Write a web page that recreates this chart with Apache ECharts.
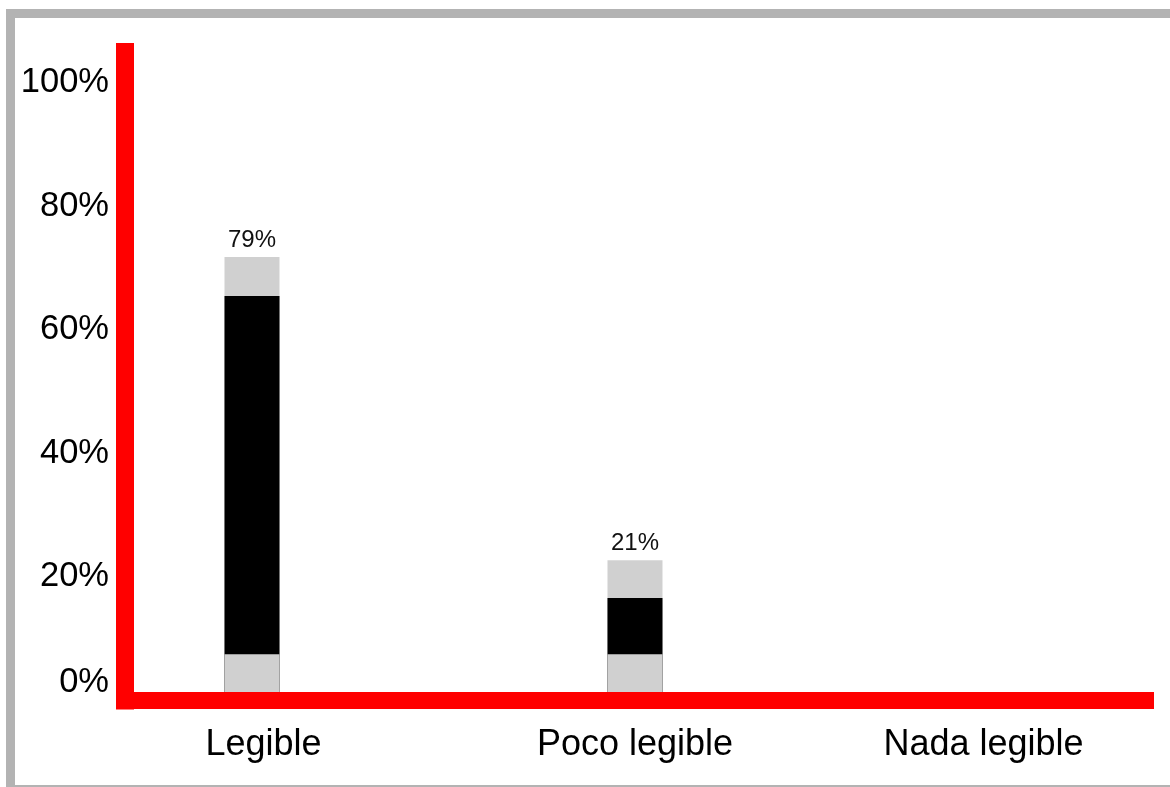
<!DOCTYPE html>
<html>
<head>
<meta charset="utf-8">
<script src="https://cdn.jsdelivr.net/npm/echarts@6/dist/echarts.min.js"></script>
<style>
    html, body { margin: 0; padding: 0; background: #fff; overflow: hidden; }
    #frame {
        position: absolute; left: 6px; top: 9px; width: 1200px; height: 785px;
        box-sizing: border-box; border: 9px solid #b3b3b3;
    }
    #chart { position: absolute; left: 0; top: 0; width: 1170px; height: 787px; }
</style>
</head>
<body>
<div id="frame"></div>
<div id="chart"></div>
<script>
// categories and the three stacked pieces of each bar (in %)
var categories = ['Legible', 'Poco legible', 'Nada legible'];
var lowerGrey = [7.5, 7.5, 0];
var blackPart = [58.0, 9.1, 0];
var upperGrey = [6.3, 6.1, 0];
var valueLabels = ['79%', '21%', ''];
var yTicks = [0, 20, 40, 60, 80, 100];

// where the category names sit on the x scale
var labelSlots = [0.03, 1, 1.91];

(function () {
    var myChart = echarts.init(document.getElementById('chart'));

    function cumulate(parts) {
        return categories.map(function (c, i) {
            var s = 0;
            parts.forEach(function (p) { s += p[i]; });
            return [i, s];
        });
    }

    var font = 'Liberation Sans, Arial, sans-serif';
    var option = {
        animation: false,
        grid: { left: 125, right: 24.5, top: 52, bottom: 86.5 },
        xAxis: {
            type: 'value',
            min: -0.3316,
            max: 2.333,
            z: 5,
            splitLine: { show: false },
            axisTick: { show: false },
            axisLine: { onZero: false, lineStyle: { color: '#ff0000', width: 17, cap: 'square' } },
            axisLabel: {
                customValues: labelSlots,
                margin: 27,
                fontSize: 36,
                fontFamily: font,
                color: '#000',
                formatter: function (v) { return categories[Math.round(v)]; }
            }
        },
        yAxis: {
            type: 'value',
            min: 0,
            max: 105,
            interval: 20,
            z: 5,
            splitLine: { show: false },
            axisTick: { show: false },
            axisLine: { onZero: false, lineStyle: { color: '#ff0000', width: 18, cap: 'square' } },
            axisLabel: {
                customValues: yTicks,
                margin: 16,
                fontSize: 34.5,
                fontFamily: font,
                color: '#000',
                formatter: function (v) { return v === 0 ? '{z|0%}' : v + '%'; },
                rich: {
                    z: { fontSize: 34.5, fontFamily: font, color: '#000', padding: [0, 0, 36, 0] }
                }
            }
        },
        series: [
            {
                name: 'top', type: 'bar', barWidth: 55, barGap: '-100%',
                itemStyle: { color: '#d0d0d0' },
                data: cumulate([lowerGrey, blackPart, upperGrey]),
                label: {
                    show: true, position: 'top', distance: 5,
                    fontSize: 24, fontFamily: font, color: '#111',
                    formatter: function (p) { return valueLabels[p.dataIndex]; }
                }
            },
            {
                name: 'mid', type: 'bar', barWidth: 55, barGap: '-100%',
                itemStyle: { color: '#000' },
                data: cumulate([lowerGrey, blackPart])
            },
            {
                name: 'low', type: 'bar', barWidth: 55, barGap: '-100%',
                itemStyle: { color: '#d0d0d0' },
                data: cumulate([lowerGrey])
            }
        ]
    };

    myChart.setOption(option);
})();
</script>
</body>
</html>
